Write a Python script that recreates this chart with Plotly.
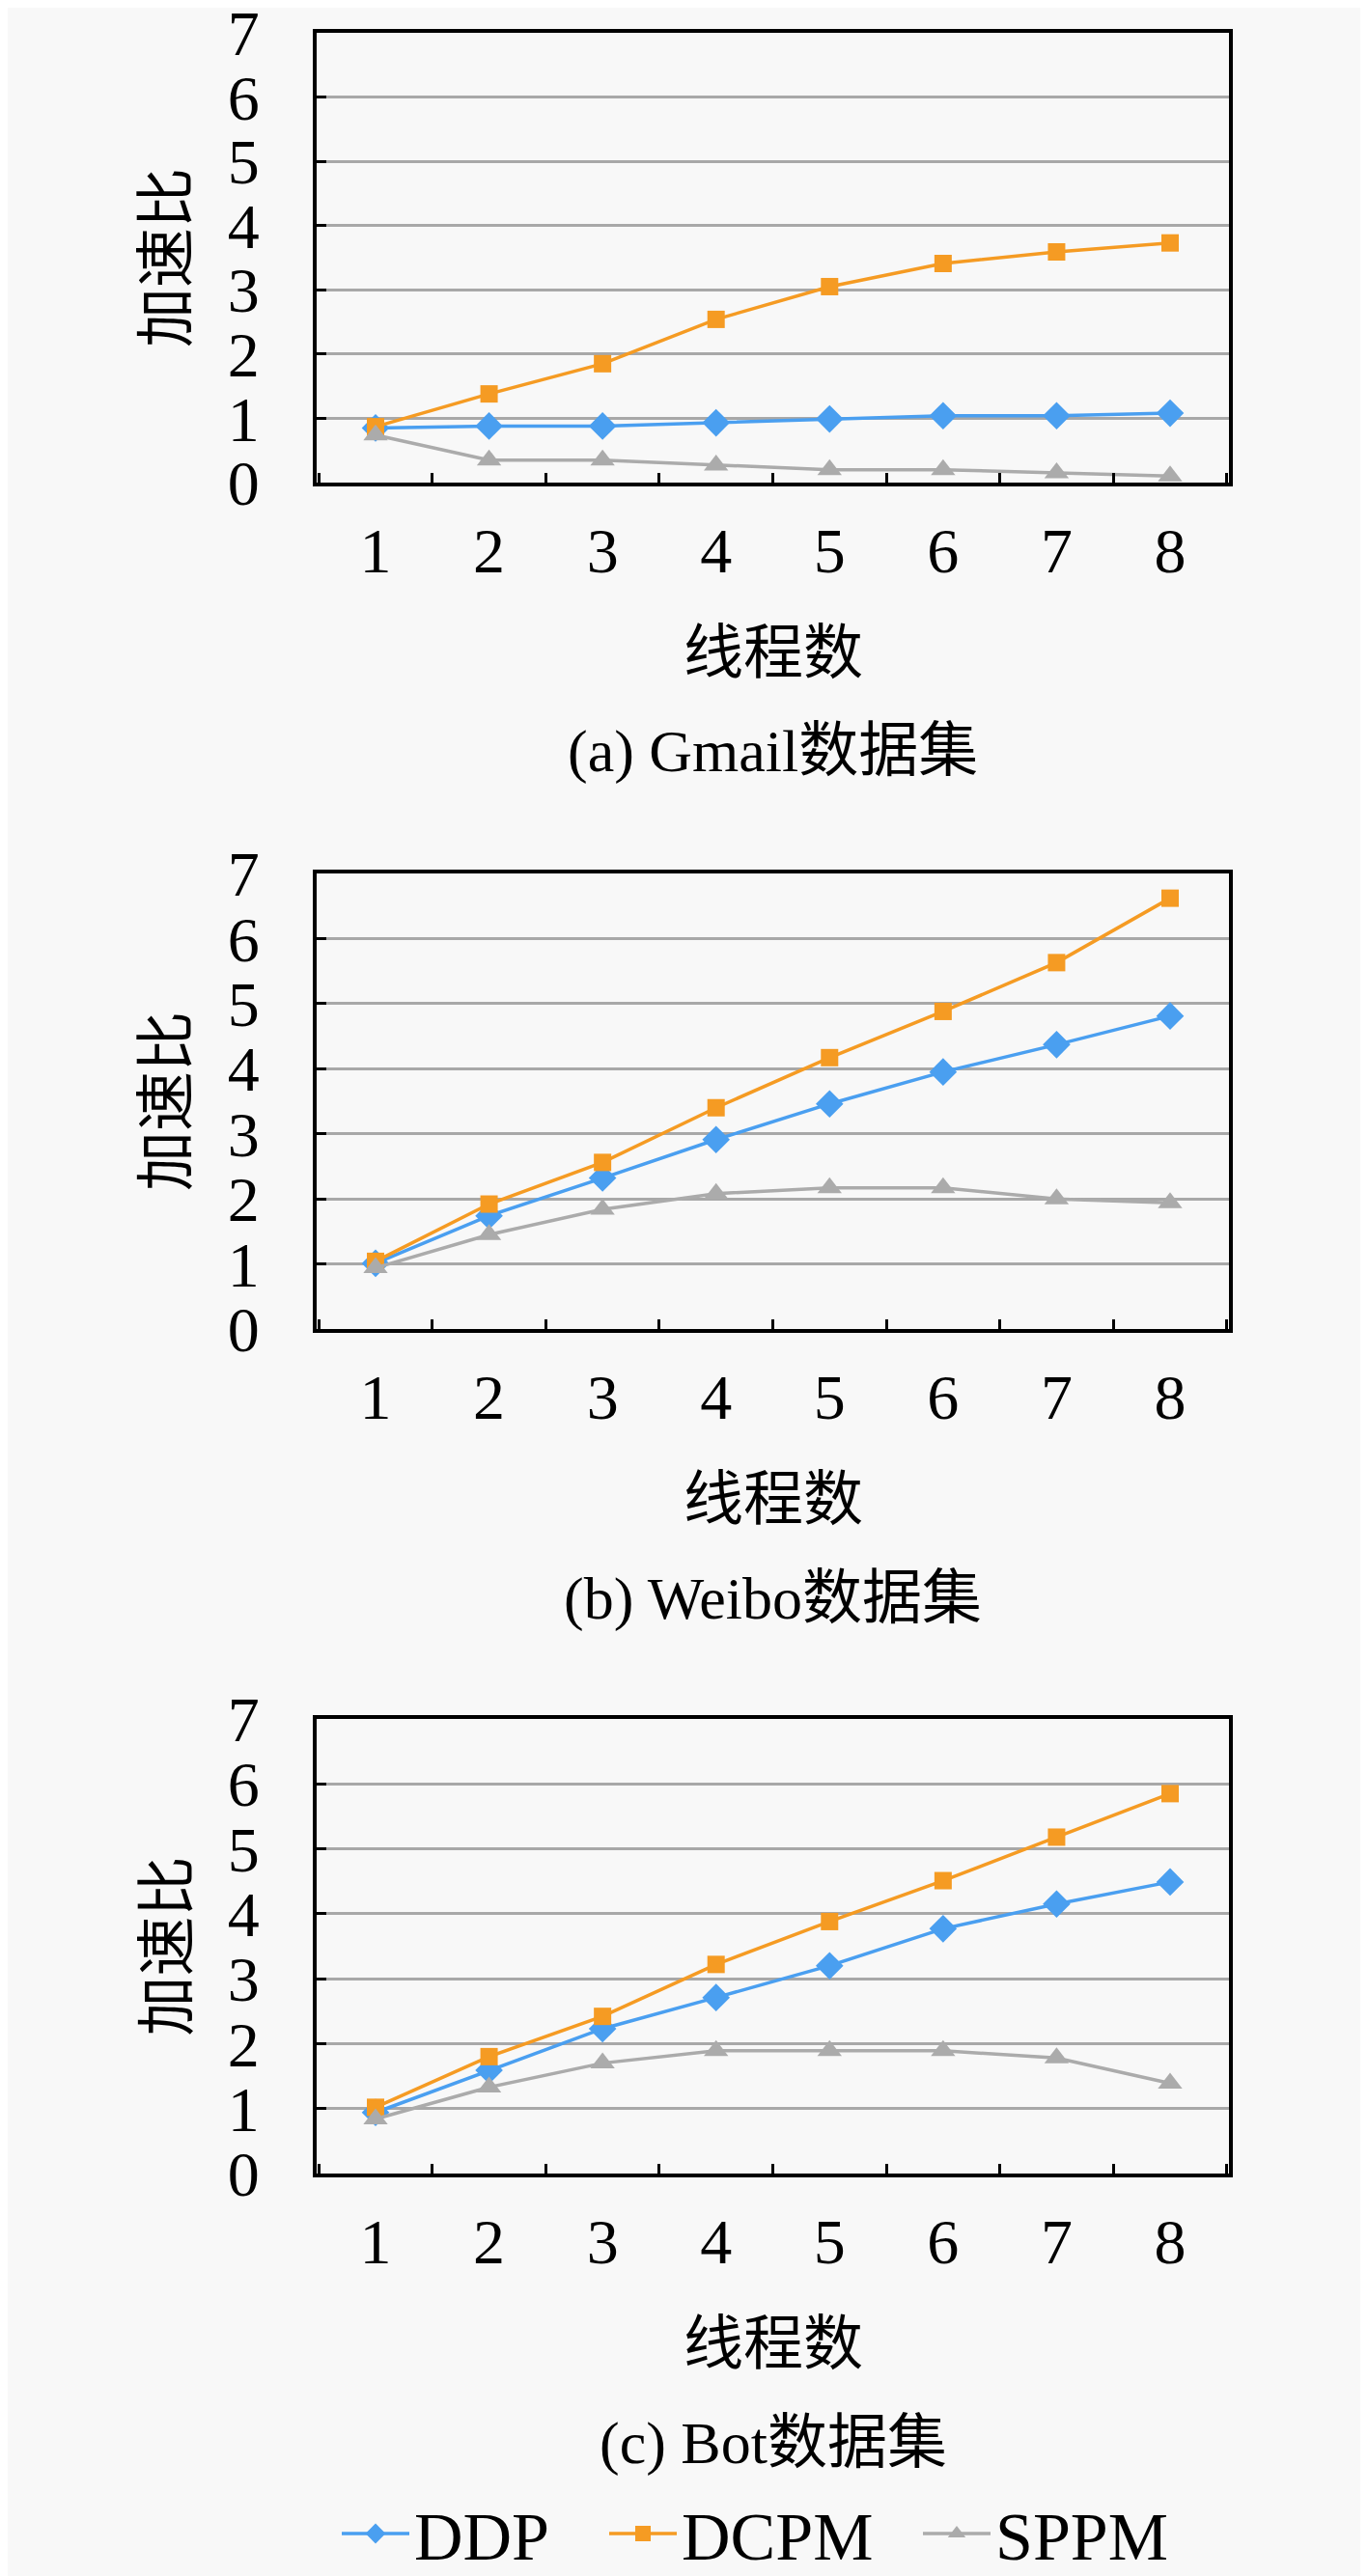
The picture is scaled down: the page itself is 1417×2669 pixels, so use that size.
import plotly.graph_objects as go

threads = ["1", "2", "3", "4", "5", "6", "7", "8"]
y_ticks = [0, 1, 2, 3, 4, 5, 6, 7]

series_names = ["DDP", "DCPM", "SPPM"]

gmail_ddp = [0.85, 0.88, 0.88, 0.93, 0.99, 1.04, 1.04, 1.08]
gmail_dcpm = [0.87, 1.38, 1.85, 2.54, 3.05, 3.41, 3.59, 3.73]
gmail_sppm = [0.74, 0.35, 0.35, 0.27, 0.20, 0.20, 0.15, 0.10]

weibo_ddp = [1.01, 1.74, 2.32, 2.91, 3.46, 3.95, 4.37, 4.81]
weibo_dcpm = [1.04, 1.92, 2.56, 3.40, 4.17, 4.88, 5.63, 6.62]
weibo_sppm = [0.94, 1.45, 1.84, 2.08, 2.17, 2.17, 2.00, 1.94]

bot_ddp = [0.94, 1.59, 2.23, 2.71, 3.20, 3.77, 4.15, 4.49]
bot_dcpm = [1.02, 1.80, 2.42, 3.22, 3.88, 4.51, 5.18, 5.85]
bot_sppm = [0.84, 1.33, 1.70, 1.89, 1.89, 1.89, 1.78, 1.39]

captions = ["(a) Gmail数据集", "(b) Weibo数据集", "(c) Bot数据集"]
x_title = "线程数"
y_title = "加速比"

W, H = 1417, 2669
OFF = 8  # page body margin shifts the figure by this much
FONT = "Liberation Serif, Noto Sans CJK SC"
colors = ["#4A9FF0", "#F59B23", "#ABABAB"]
symbols = ["diamond", "square", "triangle-up"]
msizes = [22, 18, 22]
legend_ids = ["legend", "legend2", "legend3"]
legend_x = [361, 638, 963]  # page x where each legend sample starts

# plot areas (top, bottom) in page pixels
panels = [(34, 500), (905, 1377), (1781, 2252)]
x0, x1 = 328 - OFF, 1273 - OFF

data = [
    [gmail_ddp, gmail_dcpm, gmail_sppm],
    [weibo_ddp, weibo_dcpm, weibo_sppm],
    [bot_ddp, bot_dcpm, bot_sppm],
]

fig = go.Figure()
annotations = []
for p, (top, bot) in enumerate(panels):
    top, bot = top - OFF, bot - OFF
    ax = "" if p == 0 else str(p + 1)
    for s in range(3):
        fig.add_trace(go.Scatter(
            x=threads, y=data[p][s], name=series_names[s],
            mode="lines+markers", xaxis="x" + ax, yaxis="y" + ax,
            line=dict(color=colors[s], width=3.5),
            marker=dict(symbol=symbols[s], size=msizes[s], color=colors[s]),
            showlegend=(p == 0), legend=legend_ids[s],
        ))
    dom = [1 - bot / H, 1 - top / H]
    fig.update_layout(**{
        "xaxis" + ax: dict(
            domain=[x0 / W, x1 / W], anchor="y" + ax, type="category",
            tickson="boundaries", ticks="inside", ticklen=10, tickwidth=3,
            tickcolor="black", showgrid=False, showline=True, linecolor="black",
            linewidth=4, mirror=True, ticklabelstandoff=10, automargin=False,
            ticklabeloverflow="allow",
            tickfont=dict(family=FONT, size=66, color="black"),
        ),
        "yaxis" + ax: dict(
            domain=dom, anchor="x" + ax, range=[0, 7], tickvals=y_ticks,
            ticks="inside", ticklen=10, tickwidth=3, tickcolor="black",
            showgrid=True, gridcolor="#A8A8A8", gridwidth=2.5,
            showline=True, linecolor="black", linewidth=4, mirror=True,
            zeroline=False, ticklabelstandoff=42, automargin=False,
            ticklabeloverflow="allow",
            tickfont=dict(family=FONT, size=66, color="black"),
        ),
    })
    annotations.append(dict(
        x=(173 - OFF) / W, y=1 - (top + bot) / 2 / H, xref="paper", yref="paper",
        text=y_title, textangle=-90, showarrow=False,
        font=dict(family=FONT, size=62, color="black"),
        xanchor="center", yanchor="middle",
    ))
    annotations.append(dict(
        x=(x0 + x1) / 2 / W, y=1 - (bot + 177) / H, xref="paper", yref="paper",
        text=x_title, showarrow=False,
        font=dict(family=FONT, size=62, color="black"),
        xanchor="center", yanchor="middle",
    ))
    annotations.append(dict(
        x=(x0 + x1) / 2 / W, y=1 - (bot + 279) / H, xref="paper", yref="paper",
        text=captions[p], showarrow=False,
        font=dict(family=FONT, size=62, color="black"),
        xanchor="center", yanchor="middle",
    ))

legends = {}
for lid, lx in zip(legend_ids, legend_x):
    legends[lid] = dict(
        orientation="h", x=(lx - 12 - OFF) / W, xanchor="left",
        y=0, yanchor="bottom", itemwidth=70,
        font=dict(family=FONT, size=70, color="black"),
        bgcolor="rgba(0,0,0,0)",
    )

fig.update_layout(
    width=W, height=H,
    margin=dict(l=0, r=0, t=0, b=0),
    paper_bgcolor="#F8F8F8", plot_bgcolor="#F8F8F8",
    annotations=annotations,
    **legends,
)

fig.write_html("out.html")
